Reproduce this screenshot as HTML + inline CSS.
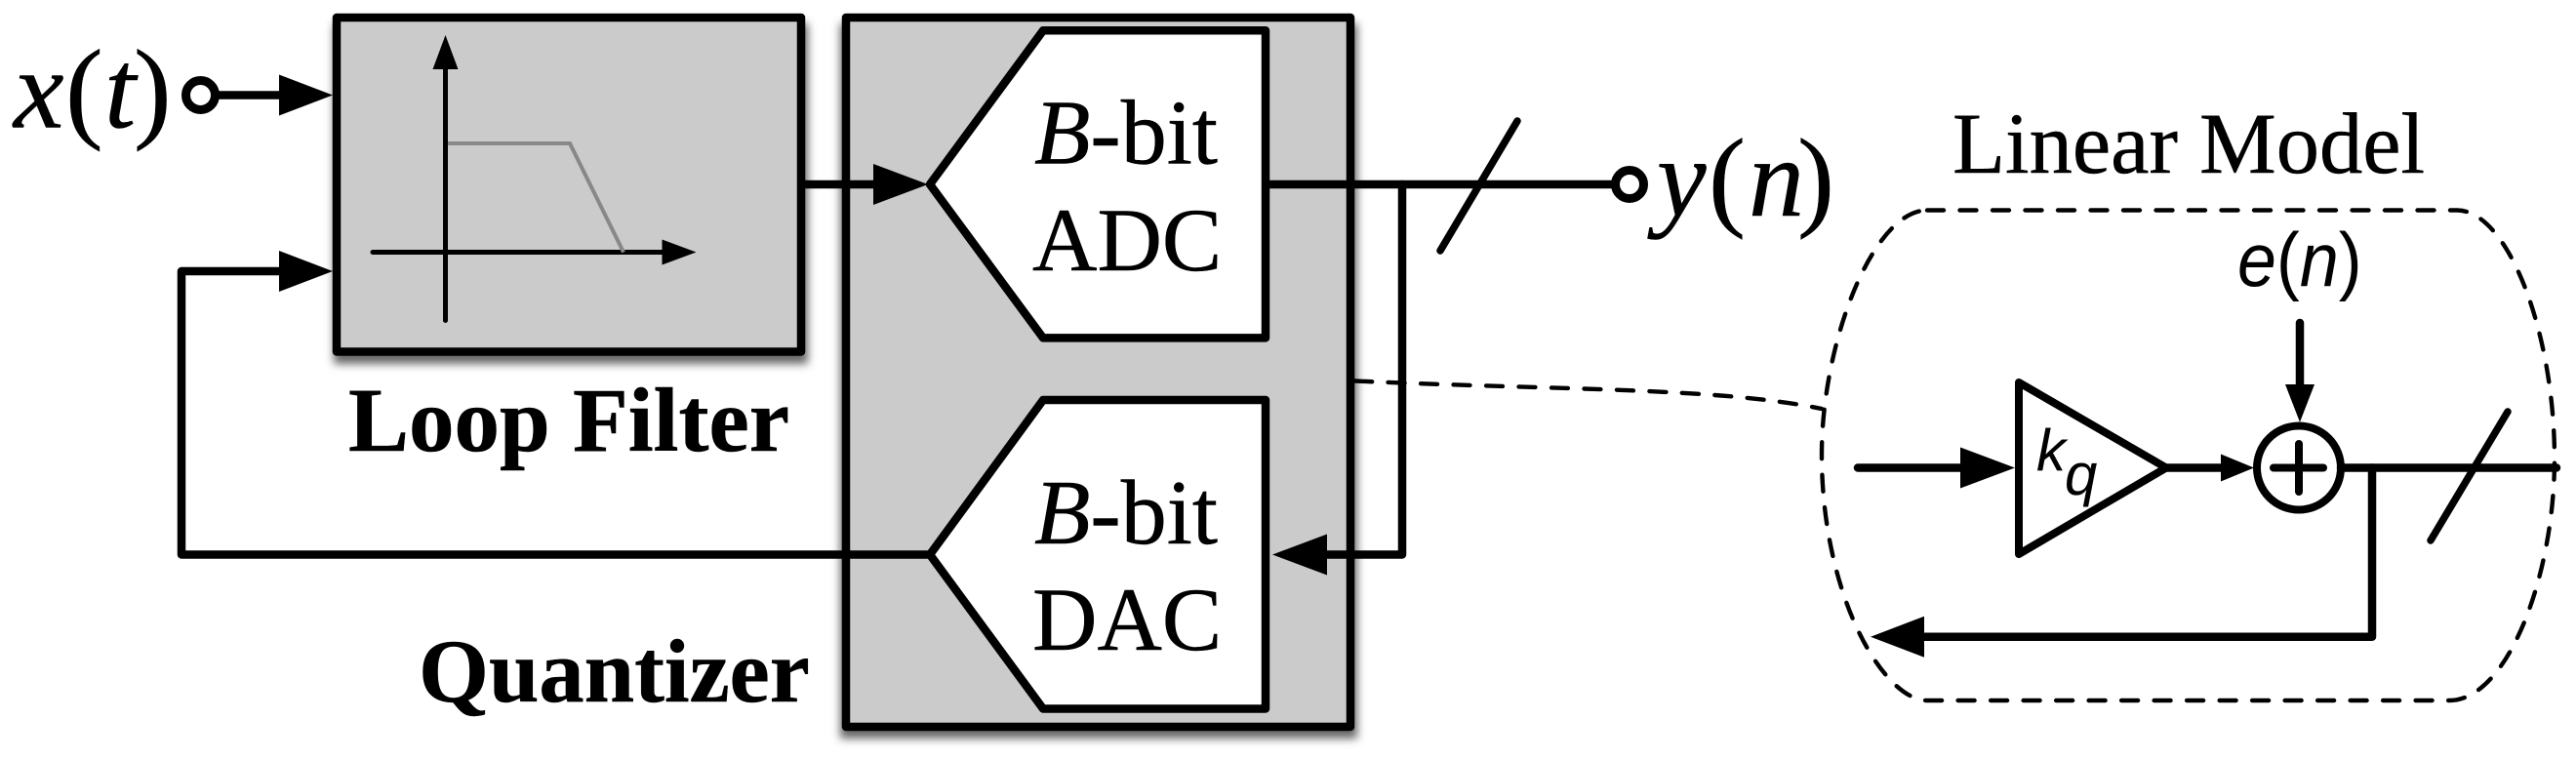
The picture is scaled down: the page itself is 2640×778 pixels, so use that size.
<!DOCTYPE html>
<html><head><meta charset="utf-8"><style>
html,body{margin:0;padding:0;background:#fff;width:2640px;height:778px;overflow:hidden}
svg{display:block}
text{fill:#000}
.s{font-family:"Liberation Serif",serif;stroke:#000;stroke-width:.5}
.a{font-family:"Liberation Sans",sans-serif}
.i{font-style:italic}
</style></head><body>
<svg width="2640" height="778" viewBox="0 0 2640 778" xmlns="http://www.w3.org/2000/svg">
<defs>
<filter id="sh" x="-6%" y="-6%" width="112%" height="115%"><feGaussianBlur stdDeviation="4.5"/></filter>
</defs>
<!-- shadows -->
<rect x="342" y="24" width="486" height="349" fill="#666" filter="url(#sh)"/>
<rect x="861" y="24" width="530" height="733" fill="#666" filter="url(#sh)"/>
<!-- boxes -->
<rect x="345" y="18" width="476" height="342.5" fill="#cbcbcb" stroke="#000" stroke-width="8.5" stroke-linejoin="round"/>
<rect x="867" y="18" width="517" height="727" fill="#cbcbcb" stroke="#000" stroke-width="8.5" stroke-linejoin="round"/>
<!-- filter plot -->
<g stroke="#000" stroke-width="5" stroke-linecap="round" fill="none">
<path d="M456.5 70V328.5M382 258.5H680"/>
</g>
<path d="M459 147H584L639 258.5" fill="none" stroke="#888" stroke-width="4"/>
<path d="M456.5 36L443.5 71H469.5Z M713.5 258.5L678.5 245.5V271.5Z"/>
<!-- wires -->
<g fill="none" stroke="#000" stroke-width="8.5" stroke-linejoin="round" stroke-linecap="round">
<path d="M222 97.5H290"/>
<path d="M290 278H186V568.5H953"/>
<path d="M822 189H900"/>
<path d="M1297 189H1655"/>
<path d="M1437 189V568.5H1355"/>
<path d="M1555 124L1476 257" stroke-width="7.5"/>
</g>
<path d="M341 97.5L286 76.5V118.5Z M341 278L286 257V299Z M951 189L895 168V210Z M1304 568.5L1360 547.5V589.5Z"/>
<circle cx="205.5" cy="97.5" r="15" fill="#fff" stroke="#000" stroke-width="9"/>
<circle cx="1670" cy="189" r="14.5" fill="#fff" stroke="#000" stroke-width="9"/>
<!-- ADC / DAC -->
<g fill="#fff" stroke="#000" stroke-width="8.5" stroke-linejoin="round">
<path d="M953 189L1069 31.3H1297V346.4H1069Z"/>
<path d="M953 568.5L1069 410H1297V726.5H1069Z"/>
</g>
<!-- dashed -->
<g fill="none" stroke="#000" stroke-width="4.4" stroke-dasharray="17 16.5" stroke-linecap="round">
<path d="M1389 390.5C1600 400 1760 397 1867 419"/>
<path d="M1975 215.5H2518C2570 215.5 2618 340 2618 470C2618 590 2570 718 2510 718H1975C1930 718 1867 610 1867 466C1867 350 1920 215.5 1975 215.5Z"/>
</g>
<!-- linear model -->
<g fill="none" stroke="#000" stroke-width="8.5" stroke-linejoin="round" stroke-linecap="round">
<path d="M1904 479.5H2015"/>
<path d="M2069 392V568L2220 479.5Z" stroke-width="8"/>
<path d="M2220 479.5H2280"/>
<path d="M2357 331V400"/>
<circle cx="2356" cy="479.5" r="43" stroke-width="8"/>
<path d="M2330 479.5H2381M2356 455V504" stroke-width="8"/>
<path d="M2399 479.5H2620"/>
<path d="M2431 479.5V652.7H1970"/>
<path d="M2570 422L2491 554" stroke-width="7.5"/>
</g>
<path d="M2065 479.5L2009 458.5V500.5Z M2310 479.5L2276 465.5V493.5Z M2357 432.7L2342 394H2372Z M1917 652.7L1972 631.7V673.7Z"/>
<!-- text -->
<text class="s" y="130.7" font-size="116"><tspan class="i" x="14">x</tspan><tspan x="67">(</tspan><tspan class="i" x="107">t</tspan><tspan x="137">)</tspan></text>
<text class="s" y="221" font-size="114"><tspan class="i" x="1698">y</tspan><tspan x="1751">(</tspan><tspan class="i" x="1792">n</tspan><tspan x="1842">)</tspan></text>
<text class="s" x="357" y="462" font-size="93" font-weight="bold">Loop Filter</text>
<text class="s" x="429" y="719" font-size="92.5" font-weight="bold">Quantizer</text>
<text class="s" x="1060" y="167.7" font-size="94"><tspan class="i">B</tspan>-bit</text>
<text class="s" x="1058" y="277" font-size="92">ADC</text>
<text class="s" x="1060" y="557" font-size="94"><tspan class="i">B</tspan>-bit</text>
<text class="s" x="1058" y="666" font-size="92">DAC</text>
<text class="s" x="2001" y="177" font-size="88.5">Linear Model</text>
<text class="a" transform="translate(2293,293) scale(.92,1)" font-size="78"><tspan class="i">e</tspan>(<tspan class="i">n</tspan>)</text>
<text class="a i" x="2087" y="482.5" font-size="60">k</text>
<text class="a i" x="2116" y="507" font-size="60">q</text>
</svg>
</body></html>
